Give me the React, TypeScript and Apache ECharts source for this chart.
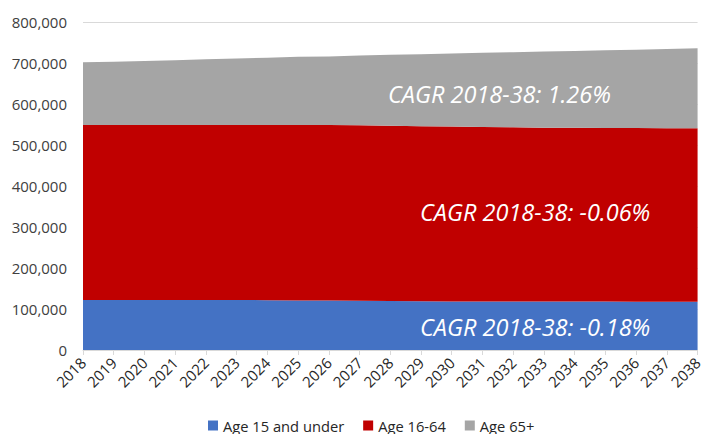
import React, { useEffect, useRef } from "react";
import * as echarts from "echarts";

const years = ["2018","2019","2020","2021","2022","2023","2024","2025","2026","2027","2028","2029","2030","2031","2032","2033","2034","2035","2036","2037","2038"];
const age15Under = [122000,122000,122000,122000,122000,122000,121500,121000,120500,120000,119500,119000,118500,118500,118000,118000,118000,118000,117500,117500,117500];
const age16to64 = [427000,427000,427000,427000,427000,427000,427500,428000,428000,428000,427500,427000,426500,425500,425000,424000,424000,423500,424000,423500,423500];
const age65Plus = [153000,154000,156000,158000,160000,162000,164000,166000,167500,170000,173000,175500,178000,181000,183500,186000,187500,189500,191000,193000,195000];
const yTicks = [0, 800000, 100000];
const cagrLabels = ["CAGR 2018-38: 1.26%", "CAGR 2018-38: -0.06%", "CAGR 2018-38: -0.18%"];

export default function App() {
  const ref = useRef<HTMLDivElement>(null);
  useEffect(() => {
    const chart = echarts.init(ref.current!, null, { renderer: "svg" });
    const font = "'Open Sans', sans-serif";
    const mk = (name: string, data: number[], color: string) => ({
      name,
      type: "line",
      stack: "total",
      data,
      symbol: "none",
      lineStyle: { width: 0 },
      areaStyle: { color, opacity: 1 },
      itemStyle: { color },
    });
    const txt = (i: number, x: number, y: number) => ({
      type: "text",
      x,
      y,
      z: 100,
      style: { text: cagrLabels[i], fill: "#fff", font: `italic 23.5px ${font}`, textVerticalAlign: "middle" },
    });
    chart.setOption({
      animation: false,
      grid: { left: 83, right: 5, top: 22, bottom: 84 },
      xAxis: {
        type: "category",
        data: years,
        boundaryGap: false,
        axisLine: { lineStyle: { color: "#d9d9d9" } },
        axisTick: { show: true, length: 5, lineStyle: { color: "#d9d9d9" } },
        axisLabel: { rotate: 45, color: "#262626", fontSize: 15, fontFamily: font, margin: 10, interval: 0 },
      },
      yAxis: {
        type: "value",
        min: yTicks[0],
        max: yTicks[1],
        interval: yTicks[2],
        axisLine: { show: false },
        axisTick: { show: false },
        splitLine: { lineStyle: { color: "#d9d9d9" } },
        axisLabel: {
          color: "#404040",
          fontSize: 15,
          fontFamily: font,
          margin: 16,
          formatter: (v: number) => v.toLocaleString("en-US"),
        },
      },
      legend: {
        bottom: -4,
        left: 203,
        itemWidth: 10,
        itemHeight: 10,
        itemGap: 19,
        itemTextGap: 4,
        icon: "rect",
        textStyle: { color: "#262626", fontSize: 14.7, fontFamily: font },
        data: ["Age 15 and under", "Age 16-64", "Age 65+"],
      },
      series: [
        mk("Age 15 and under", age15Under, "#4472C4"),
        mk("Age 16-64", age16to64, "#C00000"),
        mk("Age 65+", age65Plus, "#A5A5A5"),
      ],
      graphic: [txt(0, 388, 94), txt(1, 420, 212), txt(2, 420, 327)],
    });
    return () => chart.dispose();
  }, []);
  return <div ref={ref} style={{ position: "absolute", left: 0, top: 0, width: 705, height: 434 }} />;
}
